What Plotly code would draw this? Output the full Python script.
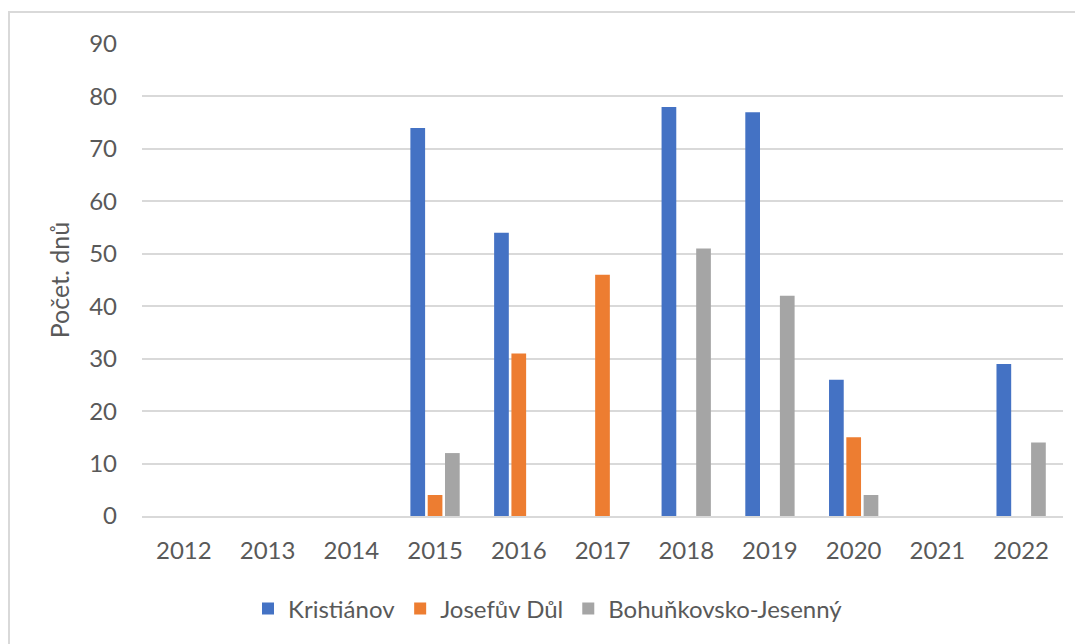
import plotly.graph_objects as go

years = ["2012", "2013", "2014", "2015", "2016", "2017", "2018", "2019", "2020", "2021", "2022"]
kristianov = [0, 0, 0, 74, 54, 0, 78, 77, 26, 0, 29]
josefuv_dul = [0, 0, 0, 4, 31, 46, 0, 0, 15, 0, 0]
bohunkovsko = [0, 0, 0, 12, 0, 0, 51, 42, 4, 0, 14]
series_names = ["Kristiánov", "Josefův Důl", "Bohuňkovsko-Jesenný"]
colors = ["#4472C4", "#ED7D31", "#A5A5A5"]
y_ticks = [0, 10, 20, 30, 40, 50, 60, 70, 80, 90]

OFF = 8  # page body margin
W, H = 1083 - OFF, 644 - OFF
L, R, T, B = 142 - OFF, 20, 44 - OFF, 128
font = "Lato, 'Open Sans', sans-serif"
txt = "#595959"

fig = go.Figure()
for name, vals, c in zip(series_names, [kristianov, josefuv_dul, bohunkovsko], colors):
    fig.add_trace(go.Bar(x=years, y=vals, name=name, marker=dict(color=c, line=dict(width=0))))

pw = W - L - R
ph = H - T - B
fig.update_layout(
    width=W, height=H,
    margin=dict(l=L, r=R, t=T, b=B),
    paper_bgcolor="white", plot_bgcolor="white",
    barmode="group", bargap=0.38, bargroupgap=0.15,
    font=dict(family=font, color=txt, size=24),
    xaxis=dict(type="category", showgrid=False, showline=True, linecolor="#D9D9D9", linewidth=1.5,
               ticks="", tickfont=dict(size=24, color=txt), ticklabelstandoff=12),
    yaxis=dict(range=[0, 90], tickvals=y_ticks, showgrid=True, gridcolor="#D9D9D9", gridwidth=1.5,
               zeroline=False, showline=False, ticks="", tickfont=dict(size=24, color=txt),
               ticklabelstandoff=24,
               title=dict(text="Počet. dnů", font=dict(size=25, color=txt), standoff=12)),
    legend=dict(orientation="h", xref="container", yref="container", x=(548 - OFF) / W, xanchor="center",
                y=1 - (609 - OFF) / H, yanchor="middle", font=dict(size=24, color=txt),
                itemwidth=30, traceorder="normal"),
    showlegend=True,
)
# outer chart border (extends past the visible window on right and bottom)
x0 = (OFF + 1 - 142) / pw
x1 = (1110 - 142) / pw
y1 = (516 - 12) / ph
y0 = (516 - 660) / ph
fig.add_shape(type="rect", xref="paper", yref="paper", x0=x0, x1=x1, y0=y0, y1=y1,
              line=dict(color="#D9D9D9", width=2), fillcolor="rgba(0,0,0,0)", layer="below")

fig.write_html("out.html")
